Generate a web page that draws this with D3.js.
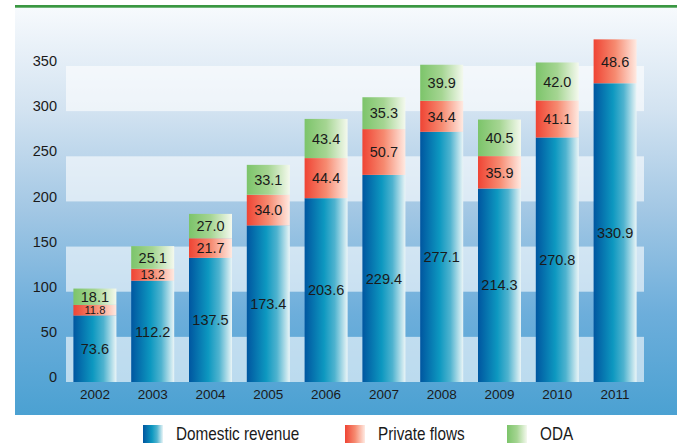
<!DOCTYPE html>
<html><head><meta charset="utf-8">
<script src="https://cdn.jsdelivr.net/npm/d3@7/dist/d3.min.js"></script>
<style>body{margin:0;background:#fff}svg{display:block}</style>
</head><body>
<svg id="c" width="677" height="446"></svg>
<script>
const years = ["2002","2003","2004","2005","2006","2007","2008","2009","2010","2011"];
const domestic = [73.6,112.2,137.5,173.4,203.6,229.4,277.1,214.3,270.8,330.9];
const privateFlows = [11.8,13.2,21.7,34.0,44.4,50.7,34.4,35.9,41.1,48.6];
const oda = [18.1,25.1,27.0,33.1,43.4,35.3,39.9,40.5,42.0,null];
const yTicks = [0,50,100,150,200,250,300,350];
const seriesNames = ["Domestic revenue","Private flows","ODA"];

const FONT = "Liberation Sans, Arial, Helvetica, sans-serif";
const svg = d3.select("#c");
const defs = svg.append("defs");
const bg = defs.append("linearGradient").attr("id","bg").attr("x1",0).attr("x2",0).attr("y1",0).attr("y2",1);
[[0,"#f7fafd"],[0.25,"#d3e3f1"],[0.5,"#a2c7e4"],[0.75,"#6daedb"],[1,"#4ba1d2"]].forEach(s=>bg.append("stop").attr("offset",s[0]).attr("stop-color",s[1]));
const grads = {
  g0:[[0,"#0056a0"],[0.45,"#0d98c0"],[0.7,"#4fb3cf"],[1,"#eaf5f7"]],
  g1:[[0,"#ef4434"],[0.5,"#f68a70"],[1,"#ffeae2"]],
  g2:[[0,"#7cc46a"],[0.5,"#a5d592"],[1,"#f4f9ee"]]
};
Object.entries(grads).forEach(([id,stops])=>{
  const g = defs.append("linearGradient").attr("id",id).attr("x1",0).attr("x2",1).attr("y1",0).attr("y2",0);
  stops.forEach(s=>g.append("stop").attr("offset",s[0]).attr("stop-color",s[1]));
});

// panel
svg.append("rect").attr("x",15).attr("y",7).attr("width",662).attr("height",408).attr("fill","url(#bg)");
svg.append("rect").attr("x",15).attr("y",5).attr("width",662).attr("height",2.7).attr("fill","#3a9742");

const x = d3.scaleBand().domain(years).range([66,644]).paddingInner(0.256).paddingOuter(0.128);
const y = d3.scaleLinear().domain([0,350]).range([382,66]);

// light bands
const bands = [[0,50],[100,150],[200,250],[300,350]];
svg.selectAll("rect.band").data(bands).enter().append("rect").attr("class","band")
  .attr("x",66).attr("width",578).attr("y",d=>y(d[1])).attr("height",d=>y(d[0])-y(d[1]))
  .attr("fill","#fff").attr("fill-opacity",0.6);

// y axis labels
const yAxis = d3.axisLeft(y).tickValues(yTicks).tickSize(0).tickPadding(0);
const ya = svg.append("g").attr("transform","translate(57,-5)").call(yAxis);
ya.select(".domain").remove();
ya.selectAll("text").attr("font-family",FONT).attr("font-size",14.5).attr("fill","#1a1a1a");

// x axis labels
const xAxis = d3.axisBottom(x).tickSize(0).tickPadding(0);
const xa = svg.append("g").attr("transform","translate(0,389)").call(xAxis);
xa.select(".domain").remove();
xa.selectAll("text").attr("font-family",FONT).attr("font-size",13.5).attr("fill","#1a1a1a");

// stacked data
const rows = years.map((yr,i)=>({year:yr, d:domestic[i], p:privateFlows[i], o:oda[i]||0, oRaw:oda[i]}));
const stack = d3.stack().keys(["d","p","o"])(rows);
const labelKeys = ["d","p","oRaw"];
stack.forEach((layer,li)=>{
  const g = svg.append("g");
  layer.forEach(seg=>{
    const v = seg.data[labelKeys[li]];
    if (v==null || v===0) return;
    const h = y(seg[0])-y(seg[1]);
    g.append("rect").attr("x",x(seg.data.year)).attr("width",x.bandwidth())
      .attr("y",y(seg[1])).attr("height",h).attr("fill",`url(#g${li})`);
    g.append("text").attr("x",x(seg.data.year)+x.bandwidth()/2).attr("y",(y(seg[0])+y(seg[1]))/2)
      .attr("dy","0.36em").attr("text-anchor","middle")
      .attr("font-family",FONT).attr("font-size",Math.min(14.5, h*1.05)).attr("fill","#1a1a1a")
      .text(v.toFixed(1));
  });
});

// legend
const legX = [143,345,507];
seriesNames.forEach((n,i)=>{
  svg.append("rect").attr("x",legX[i]).attr("y",425).attr("width",20).attr("height",18).attr("fill",`url(#g${i})`);
  svg.append("text").attr("transform",`translate(${legX[i]+33},440) scale(0.85,1)`)
    .attr("font-family",FONT).attr("font-size",18).attr("fill","#1a1a1a").text(n);
});
</script>
</body></html>
